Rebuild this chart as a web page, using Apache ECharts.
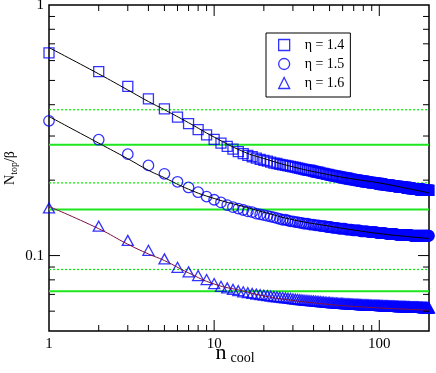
<!DOCTYPE html>
<html>
<head>
    <meta charset="utf-8">
    <title>N_top / beta vs n_cool</title>
    <script src="https://cdn.jsdelivr.net/npm/echarts@6/dist/echarts.min.js"></script>
</head>
<body style="margin:0">
<div id="main" style="width: 436px;height:373px;"></div>

<script type="text/javascript">

    // axis range and tick values
    var XMIN = 1, XMAX = 200, YMIN = 0.05, YMAX = 1;
    var xTickLabels = ['1', '10', '100'];
    var yTickLabels = ['0.1', '1'];
    var xMajorTicks = [10, 100];
    var xMinorTicks = [2, 3, 4, 5, 6, 7, 8, 9, 20, 30, 40, 50, 60, 70, 80, 90];
    var yMajorTicks = [0.1];
    var yMinorTicks = [0.06, 0.07, 0.08, 0.09, 0.2, 0.3, 0.4, 0.5, 0.6, 0.7, 0.8, 0.9];

    var seriesNames = ['\u03b7 = 1.4', '\u03b7 = 1.5', '\u03b7 = 1.6'];

    // measured points, index i -> n_cool = i + 1
    var eta14 = [
        0.644,0.542,0.473,0.422,0.385,0.357,0.336,0.318,0.303,0.291,
        0.281,0.273,0.266,0.260,0.255,0.251,0.248,0.245,0.242,0.240,
        0.238,0.236,0.234,0.233,0.231,0.230,0.229,0.228,0.227,0.226,
        0.225,0.224,0.223,0.222,0.221,0.220,0.219,0.219,0.218,0.217,
        0.216,0.215,0.215,0.214,0.213,0.213,0.212,0.211,0.211,0.210,
        0.209,0.209,0.208,0.208,0.207,0.207,0.206,0.206,0.205,0.205,
        0.204,0.204,0.204,0.203,0.203,0.202,0.202,0.202,0.201,0.201,
        0.201,0.200,0.200,0.200,0.199,0.199,0.199,0.198,0.198,0.198,
        0.198,0.197,0.197,0.197,0.197,0.196,0.196,0.196,0.196,0.195,
        0.195,0.195,0.195,0.195,0.194,0.194,0.194,0.194,0.194,0.193,
        0.193,0.193,0.193,0.193,0.192,0.192,0.192,0.192,0.192,0.192,
        0.191,0.191,0.191,0.191,0.191,0.191,0.190,0.190,0.190,0.190,
        0.190,0.190,0.190,0.189,0.189,0.189,0.189,0.189,0.189,0.189,
        0.188,0.188,0.188,0.188,0.188,0.188,0.188,0.188,0.187,0.187,
        0.187,0.187,0.187,0.187,0.187,0.187,0.186,0.186,0.186,0.186,
        0.186,0.186,0.186,0.186,0.186,0.185,0.185,0.185,0.185,0.185,
        0.185,0.185,0.185,0.185,0.185,0.184,0.184,0.184,0.184,0.184,
        0.184,0.184,0.184,0.184,0.184,0.184,0.183,0.183,0.183,0.183,
        0.183,0.183,0.183,0.183,0.183,0.183,0.183,0.183,0.182,0.182,
        0.182,0.182,0.182,0.182,0.182,0.182,0.182,0.182,0.182,0.182
    ];
    var eta15 = [
        0.345,0.290,0.254,0.229,0.212,0.197,0.187,0.179,0.172,0.167,
        0.163,0.159,0.156,0.154,0.152,0.150,0.149,0.147,0.146,0.145,
        0.144,0.143,0.142,0.141,0.140,0.139,0.139,0.138,0.137,0.137,
        0.136,0.136,0.135,0.135,0.134,0.134,0.134,0.133,0.133,0.133,
        0.132,0.132,0.132,0.131,0.131,0.131,0.131,0.130,0.130,0.130,
        0.130,0.129,0.129,0.129,0.129,0.129,0.128,0.128,0.128,0.128,
        0.128,0.128,0.127,0.127,0.127,0.127,0.127,0.127,0.126,0.126,
        0.126,0.126,0.126,0.126,0.126,0.126,0.125,0.125,0.125,0.125,
        0.125,0.125,0.125,0.125,0.125,0.124,0.124,0.124,0.124,0.124,
        0.124,0.124,0.124,0.124,0.124,0.124,0.123,0.123,0.123,0.123,
        0.123,0.123,0.123,0.123,0.123,0.123,0.123,0.123,0.123,0.122,
        0.122,0.122,0.122,0.122,0.122,0.122,0.122,0.122,0.122,0.122,
        0.122,0.122,0.122,0.122,0.122,0.122,0.121,0.121,0.121,0.121,
        0.121,0.121,0.121,0.121,0.121,0.121,0.121,0.121,0.121,0.121,
        0.121,0.121,0.121,0.121,0.121,0.121,0.121,0.121,0.121,0.121,
        0.121,0.121,0.121,0.121,0.121,0.120,0.120,0.120,0.120,0.120,
        0.120,0.120,0.120,0.120,0.120,0.120,0.120,0.120,0.120,0.120,
        0.120,0.120,0.120,0.120,0.120,0.120,0.120,0.120,0.120,0.120,
        0.120,0.120,0.120,0.120,0.120,0.120,0.120,0.120,0.120,0.120,
        0.120,0.120,0.120,0.120,0.120,0.120,0.120,0.120,0.120,0.120
    ];
    var eta16 = [
        0.155,0.131,0.115,0.105,0.097,0.0898,0.0861,0.0832,0.0802,0.0773,
        0.0754,0.0743,0.0733,0.0724,0.0717,0.0711,0.0706,0.0702,0.0698,0.0695,
        0.0692,0.0689,0.0686,0.0684,0.0682,0.0680,0.0678,0.0676,0.0674,0.0672,
        0.0670,0.0669,0.0667,0.0666,0.0664,0.0663,0.0662,0.0661,0.0660,0.0659,
        0.0658,0.0657,0.0656,0.0655,0.0654,0.0653,0.0652,0.0651,0.0651,0.0650,
        0.0649,0.0648,0.0648,0.0647,0.0646,0.0646,0.0645,0.0645,0.0644,0.0644,
        0.0643,0.0643,0.0642,0.0642,0.0641,0.0641,0.0640,0.0640,0.0640,0.0639,
        0.0639,0.0639,0.0638,0.0638,0.0638,0.0637,0.0637,0.0637,0.0636,0.0636,
        0.0636,0.0636,0.0635,0.0635,0.0635,0.0635,0.0634,0.0634,0.0634,0.0634,
        0.0633,0.0633,0.0633,0.0633,0.0633,0.0632,0.0632,0.0632,0.0632,0.0632,
        0.0631,0.0631,0.0631,0.0631,0.0631,0.0630,0.0630,0.0630,0.0630,0.0630,
        0.0630,0.0630,0.0630,0.0629,0.0629,0.0629,0.0629,0.0629,0.0628,0.0628,
        0.0628,0.0628,0.0628,0.0628,0.0627,0.0627,0.0627,0.0627,0.0627,0.0627,
        0.0626,0.0626,0.0626,0.0626,0.0626,0.0626,0.0625,0.0625,0.0625,0.0625,
        0.0625,0.0625,0.0625,0.0625,0.0625,0.0624,0.0624,0.0624,0.0624,0.0624,
        0.0624,0.0624,0.0624,0.0623,0.0623,0.0623,0.0623,0.0623,0.0623,0.0623,
        0.0623,0.0623,0.0622,0.0622,0.0622,0.0622,0.0622,0.0622,0.0622,0.0622,
        0.0622,0.0622,0.0622,0.0621,0.0621,0.0621,0.0621,0.0621,0.0621,0.0621,
        0.0621,0.0621,0.0621,0.0620,0.0620,0.0620,0.0620,0.0620,0.0620,0.0620,
        0.0620,0.0620,0.0620,0.0620,0.0619,0.0619,0.0619,0.0619,0.0619,0.0619
    ];

    // fitted curves, read at these n_cool
    var fitN  = [1, 2, 3, 4, 5, 7, 10, 15, 20, 30, 50, 70, 100, 150, 200];
    var fit14 = [0.676, 0.531, 0.458, 0.412, 0.382, 0.339, 0.297, 0.260, 0.244, 0.226, 0.210, 0.202, 0.195, 0.185, 0.178];
    var fit15 = [0.359, 0.281, 0.2435, 0.219, 0.2045, 0.184, 0.169, 0.157, 0.149, 0.139, 0.131, 0.1265, 0.1224, 0.119, 0.117];
    var fit16 = [0.157, 0.128, 0.111, 0.1015, 0.0955, 0.0853, 0.077, 0.0722, 0.0690, 0.0662, 0.0638, 0.0627, 0.0618, 0.0610, 0.0605];

    // horizontal reference levels
    var solidLevels = [0.277, 0.1526, 0.0721];
    var dottedLevels = [0.382, 0.195, 0.088];

    var serif = 'Liberation Serif';
    var blue = '#0000ff';

    function points(vals) {
        var out = [];
        for (var i = 0; i < vals.length; i++) out.push([i + 1, vals[i]]);
        return out;
    }
    function pairs(xs, ys) {
        return xs.map(function (x, i) { return [x, ys[i]]; });
    }
    function tickLabel(labels) {
        return function (v) {
            for (var i = 0; i < labels.length; i++) {
                if (Math.abs(Math.log10(v) - Math.log10(parseFloat(labels[i]))) < 1e-6) return labels[i];
            }
            return '';
        };
    }

    var tickData = [];
    xMajorTicks.forEach(function (v) { tickData.push([v, YMIN, 0, 11]); });
    xMinorTicks.forEach(function (v) { tickData.push([v, YMIN, 0, 6]); });
    yMajorTicks.forEach(function (v) { tickData.push([XMIN, v, 1, 11]); });
    yMinorTicks.forEach(function (v) { tickData.push([XMIN, v, 1, 6]); });

    function renderTick(params, api) {
        var len = api.value(3);
        var a, b, style = { stroke: '#000', lineWidth: 1 };
        if (api.value(2) === 0) {
            a = api.coord([api.value(0), YMIN]);
            b = api.coord([api.value(0), YMAX]);
            return { type: 'group', children: [
                { type: 'line', shape: { x1: a[0], y1: a[1], x2: a[0], y2: a[1] - len }, style: style },
                { type: 'line', shape: { x1: b[0], y1: b[1], x2: b[0], y2: b[1] + len }, style: style }
            ]};
        }
        a = api.coord([XMIN, api.value(1)]);
        b = api.coord([XMAX, api.value(1)]);
        return { type: 'group', children: [
            { type: 'line', shape: { x1: a[0], y1: a[1], x2: a[0] + len, y2: a[1] }, style: style },
            { type: 'line', shape: { x1: b[0], y1: b[1], x2: b[0] - len, y2: b[1] }, style: style }
        ]};
    }

    var series = [];
    solidLevels.forEach(function (v) {
        series.push({ type: 'line', data: [[XMIN, v], [XMAX, v]], symbol: 'none', silent: true, z: 1,
            lineStyle: { color: '#1ee61e', width: 2 } });
    });
    dottedLevels.forEach(function (v) {
        series.push({ type: 'line', data: [[XMIN, v], [XMAX, v]], symbol: 'none', silent: true, z: 1,
            lineStyle: { color: '#00ee00', width: 1.2, type: [2, 2] } });
    });

    var markerStyle = { color: 'rgba(0,0,0,0)', borderColor: blue, borderWidth: 1.3 };
    series.push({ name: seriesNames[0], type: 'scatter', symbol: 'rect', symbolSize: 10, data: points(eta14), itemStyle: markerStyle, z: 2 });
    series.push({ name: seriesNames[1], type: 'scatter', symbol: 'circle', symbolSize: 10.5, data: points(eta15), itemStyle: markerStyle, z: 2 });
    series.push({ name: seriesNames[2], type: 'scatter', symbol: 'triangle', symbolSize: [11, 10], data: points(eta16), itemStyle: markerStyle, z: 2 });

    series.push({ type: 'line', data: pairs(fitN, fit14), symbol: 'none', smooth: true, silent: true, z: 3, lineStyle: { color: '#000', width: 1 } });
    series.push({ type: 'line', data: pairs(fitN, fit15), symbol: 'none', smooth: true, silent: true, z: 3, lineStyle: { color: '#000', width: 1 } });
    series.push({ type: 'line', data: pairs(fitN, fit16), symbol: 'none', smooth: true, silent: true, z: 3, lineStyle: { color: '#7a1040', width: 1 } });

    series.push({ type: 'custom', renderItem: renderTick, data: tickData, encode: { x: 0, y: 1 }, silent: true, z: 4, clip: false });

    var myChart = echarts.init(document.getElementById('main'));
    var option = {
        animation: false,
        textStyle: { fontFamily: serif },
        grid: { left: 49, top: 5, right: 7, bottom: 42, outerBoundsMode: 'none',
            show: true, borderColor: '#000', borderWidth: 1.5 },
        legend: {
            left: 266, top: 33, orient: 'vertical',
            borderColor: '#000', borderWidth: 1, padding: [5, 6, 7, 12],
            itemWidth: 11, itemHeight: 11, itemGap: 5,
            textStyle: { fontFamily: serif, fontSize: 14, color: '#000', padding: [0, 0, 0, 10] },
            data: seriesNames.map(function (n, i) {
                return { name: n, icon: ['rect', 'circle', 'triangle'][i], itemStyle: markerStyle };
            })
        },
        xAxis: {
            type: 'log', logBase: 10, min: XMIN, max: XMAX,
            axisLine: { show: false }, axisTick: { show: false }, splitLine: { show: false },
            axisLabel: { formatter: tickLabel(xTickLabels), fontFamily: serif, fontSize: 15, color: '#000', margin: 6 },
            name: '{n|n}{s|cool}', nameLocation: 'middle', nameGap: 10, nameMoveOverlap: false,
            nameTextStyle: { padding: [0, 8, 0, 0], rich: {
                n: { fontFamily: serif, fontSize: 22, color: '#000', lineHeight: 24, verticalAlign: 'middle' },
                s: { fontFamily: serif, fontSize: 14, color: '#000', lineHeight: 24, verticalAlign: 'bottom', padding: [26, 0, 0, 4] }
            } }
        },
        yAxis: {
            type: 'log', logBase: 10, min: YMIN, max: YMAX,
            axisLine: { show: false }, axisTick: { show: false }, splitLine: { show: false },
            axisLabel: { formatter: tickLabel(yTickLabels), fontFamily: serif, fontSize: 15, color: '#000', margin: 5 },
            name: '{n|N}{s|top}{n|/\u03b2}', nameLocation: 'middle', nameGap: 30, nameRotate: 90, nameMoveOverlap: false,
            nameTextStyle: { padding: [0, 0, 0, 0], rich: {
                n: { fontFamily: serif, fontSize: 14, color: '#000', lineHeight: 18, verticalAlign: 'middle' },
                s: { fontFamily: serif, fontSize: 10, color: '#000', lineHeight: 18, verticalAlign: 'bottom', padding: [8, 0, 0, 0] }
            } }
        },
        series: series
    };
    myChart.setOption(option);
</script>
</body>
</html>
